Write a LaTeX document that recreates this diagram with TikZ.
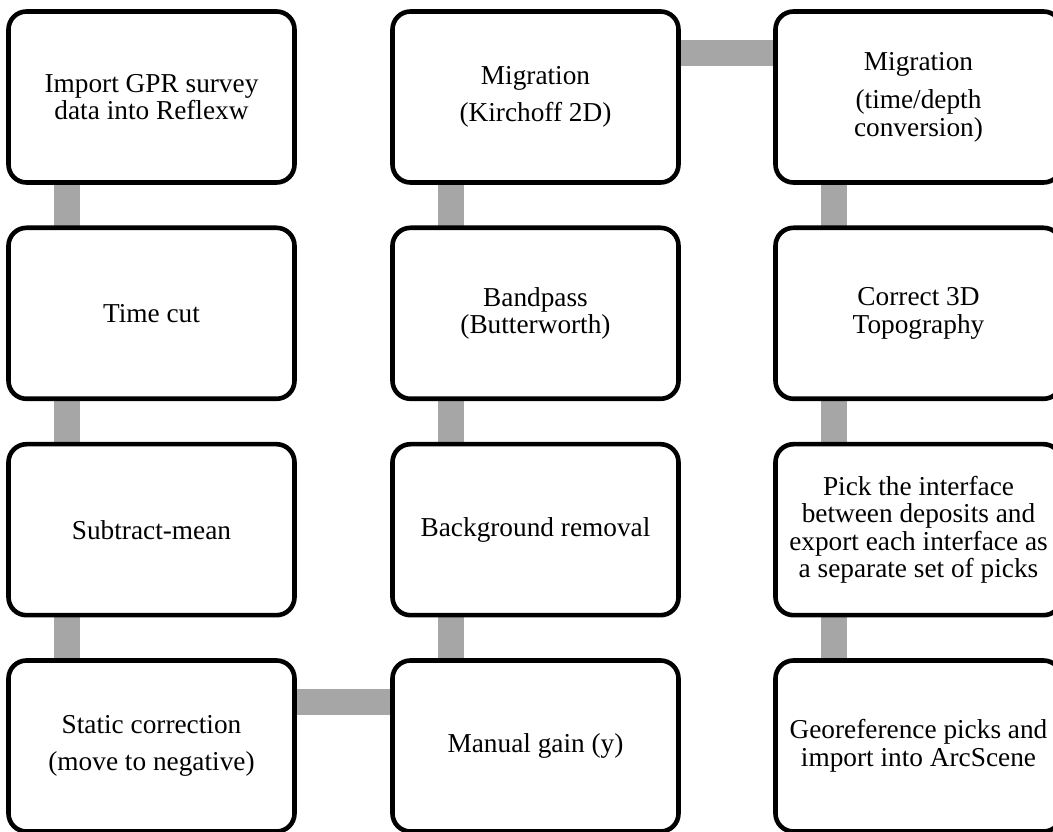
\documentclass[tikz,border=0pt]{standalone}
\usepackage{fontspec}
\setmainfont{Liberation Serif}
\usetikzlibrary{calc,backgrounds}
\definecolor{conngray}{RGB}{166,166,166}
\tikzset{
  x=1pt,y=1pt,
  stepbox/.style={draw=black, line width=4.6pt, fill=white, rounded corners=18pt,
    minimum width=286pt, minimum height=171pt, inner sep=0pt, align=center,
    font=\fontsize{27.3}{27.5}\selectfont},
  conn/.style={draw=conngray, line width=25.5pt, line cap=butt}
}
\begin{document}
\begin{tikzpicture}
\useasboundingbox (0,0) rectangle (1053,831);
\clip (0,0) rectangle (1053,831);
% column centres: 151.5, 535.5, 918.5 ; row centres (from top): 97, 313.3, 529.7, 746
\node[stepbox] (a1) at (151.5,734) {Import GPR survey\\data into Reflexw};
\node[stepbox] (a2) at (151.5,517.7) {Time cut};
\node[stepbox] (a3) at (151.5,301.3) {Subtract-mean};
\node[stepbox] (a4) at (151.5,85) {Static correction\\[9pt](move to negative)};
\node[stepbox] (b4) at (535.5,85) {Manual gain (y)};
\node[stepbox] (b3) at (535.5,301.3) {Background removal};
\node[stepbox] (b2) at (535.5,517.7) {Bandpass\\(Butterworth)};
\node[stepbox] (b1) at (535.5,734) {Migration\\[9pt](Kirchoff 2D)};
\node[stepbox] (c1) at (918.5,734) {Migration\\[11pt](time/depth\\conversion)};
\node[stepbox] (c2) at (918.5,517.7) {Correct 3D\\Topography};
\node[stepbox] (c3) at (918.5,301.3) {Pick the interface\\between deposits and\\export each interface as\\a separate set of picks};
\node[stepbox] (c4) at (918.5,85) {Georeference picks and\\import into ArcScene};
\begin{scope}[on background layer]
  \foreach \u/\v in {a1/a2,a2/a3,a3/a4,b4/b3,b3/b2,b2/b1,c1/c2,c2/c3,c3/c4}{
    \draw[conn] ($(\u.south west)+(61,5)$) -- ($(\v.north west)+(61,-5)$);
  }
  \draw[conn] ($(b4.north west)+(5,-44)$) -- ($(a4.north east)+(-5,-44)$);
  \draw[conn] ($(b1.north east)+(-5,-44)$) -- ($(c1.north west)+(5,-44)$);
\end{scope}
\end{tikzpicture}
\end{document}
